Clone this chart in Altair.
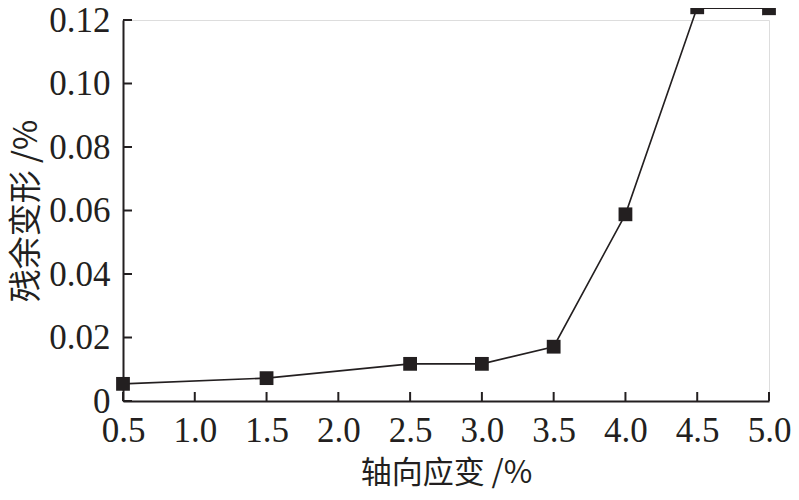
import altair as alt
import pandas as pd

strain = [0.5, 1.5, 2.5, 3.0, 3.5, 4.0, 4.5, 5.0]
residual = [0.0054, 0.0072, 0.0117, 0.0117, 0.0171, 0.0588, 0.1240, 0.1237]
x_ticks = [0.5, 1.0, 1.5, 2.0, 2.5, 3.0, 3.5, 4.0, 4.5, 5.0]
y_ticks = [0.0, 0.02, 0.04, 0.06, 0.08, 0.10, 0.12]

df = pd.DataFrame({"x": strain, "y": residual})
xt = pd.DataFrame({"t": x_ticks})
yt = pd.DataFrame({"t": y_ticks})

INK = "#231f20"
FONT = "Liberation Serif, Noto Sans CJK SC"
W, H = 646, 381

xscale = alt.Scale(domain=[0.5, 5.0], nice=False, zero=False)
yscale = alt.Scale(domain=[0, 0.12], nice=False)

xaxis = alt.Axis(values=x_ticks, format=".1f", tickSize=0, domainColor=INK, domainWidth=2,
                 labelFont=FONT, labelFontSize=35, labelColor=INK, labelPadding=12,
                 labelFlush=False, grid=False,
                 title="轴向应变 /%", titleFont="Noto Sans CJK SC", titleFontSize=31,
                 titleFontWeight="normal", titleColor=INK, titlePadding=10)
yaxis = alt.Axis(values=y_ticks, labelExpr="datum.value == 0 ? '0' : format(datum.value, '.2f')",
                 tickSize=0, domainColor=INK, domainWidth=2,
                 labelFont=FONT, labelFontSize=35, labelColor=INK, labelPadding=13,
                 labelFlush=False, grid=False,
                 title="残余变形 /%", titleFont="Noto Sans CJK SC", titleFontSize=33,
                 titleFontWeight="normal", titleColor=INK, titlePadding=5)

line = alt.Chart(df).mark_line(color=INK, strokeWidth=1.6, clip=False).encode(
    x=alt.X("x:Q", scale=xscale, axis=xaxis),
    y=alt.Y("y:Q", scale=yscale, axis=yaxis),
)
pts = alt.Chart(df).mark_point(shape="square", filled=True, size=190, color=INK, opacity=1, clip=False).encode(
    x=alt.X("x:Q", scale=xscale),
    y=alt.Y("y:Q", scale=yscale),
)
xtick = alt.Chart(xt).mark_rule(color=INK, strokeWidth=2).encode(
    x=alt.X("t:Q", scale=xscale),
    y=alt.value(H),
    y2=alt.value(H - 9),
)
ytick = alt.Chart(yt).mark_rule(color=INK, strokeWidth=2).encode(
    y=alt.Y("t:Q", scale=yscale),
    x=alt.value(0),
    x2=alt.value(9),
)

chart = alt.layer(xtick, ytick, line, pts).properties(
    width=W, height=H,
    autosize=alt.AutoSizeParams(type="none"),
    padding={"left": 115, "top": 12, "right": 22, "bottom": 91},
).configure_view(stroke=None).configure(background="white")

chart.save("out.html", embed_options={"renderer": "svg", "actions": False})
